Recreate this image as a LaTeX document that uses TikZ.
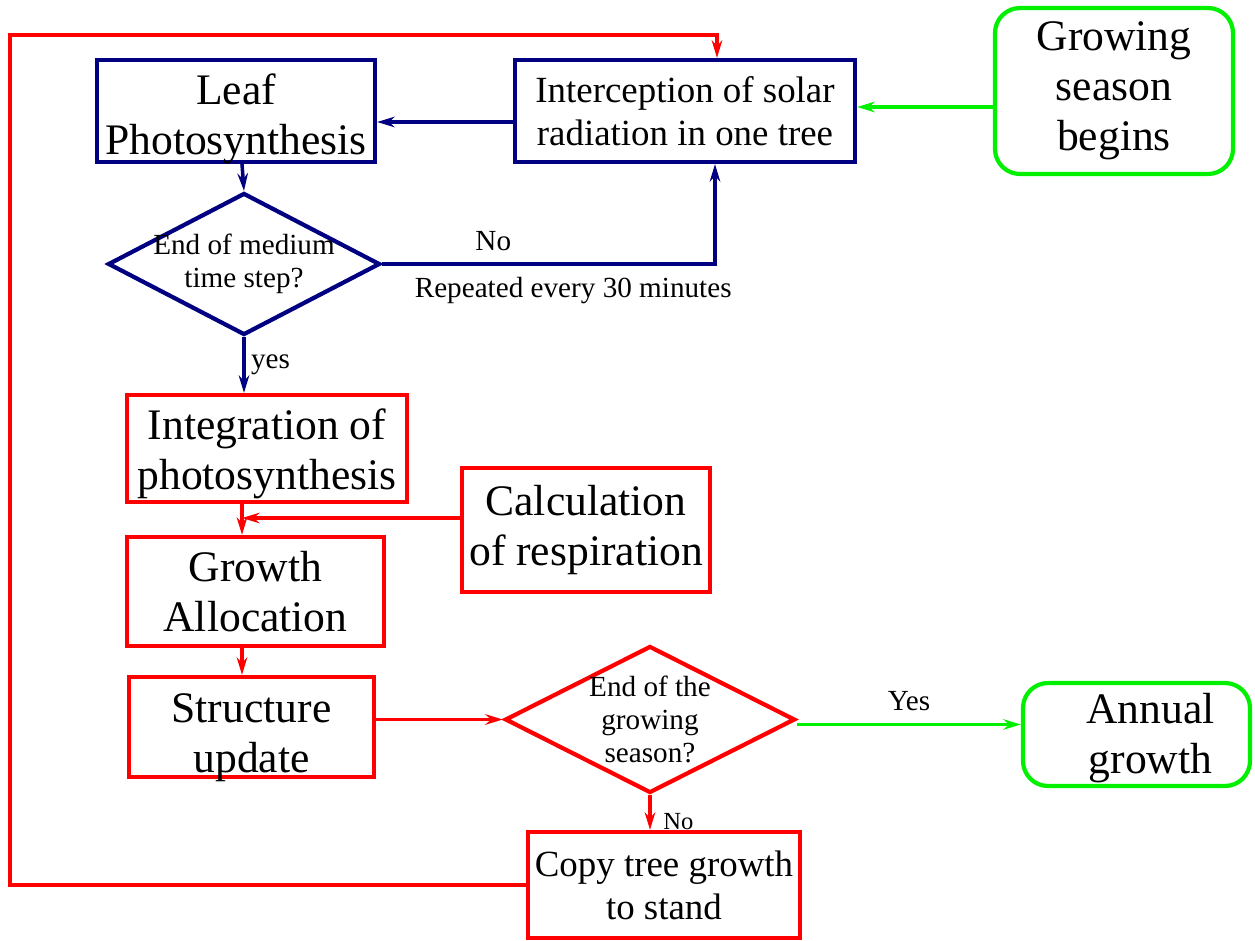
\documentclass[tikz,border=0pt]{standalone}
\usepackage{fontspec}
\setmainfont{Liberation Serif}
\usetikzlibrary{shapes.geometric,arrows.meta,calc}
\definecolor{navyline}{RGB}{0,0,128}
\definecolor{redline}{RGB}{255,0,0}
\definecolor{greenline}{RGB}{0,240,0}
\tikzset{box/.style={draw, rectangle, line width=1.2pt, align=center, inner sep=0pt},
  bluebox/.style={box, draw=navyline}, redbox/.style={box, draw=redline},
  greenbox/.style={box, draw=greenline, rounded corners=0.25cm},
  decision/.style={diamond, draw, line width=1.2pt, inner sep=0pt},
  big/.style={font=\fontsize{12.4}{14.2}\selectfont, text=black},
  mid/.style={font=\fontsize{10.5}{12.2}\selectfont, text=black},
  small/.style={font=\fontsize{8.3}{9.4}\selectfont, text=black},
  link/.style={line width=1pt, -{Stealth[length=5pt,width=3pt]}}}

\begin{document}
\begin{tikzpicture}
    \useasboundingbox (0,0) rectangle (12.55,-9.41);
    % boxes
    \node[bluebox,minimum width=2.78cm,minimum height=1.02cm,
      label={[big,align=center,yshift=-0.08cm]center:Leaf\\Photosynthesis}] (leaf) at (2.36,-1.11) {};
    \node[bluebox,mid,minimum width=3.40cm,minimum height=1.02cm] (icp) at (6.85,-1.11) {Interception of solar\\radiation in one tree};
    \node[greenbox,big,minimum width=2.38cm,minimum height=1.66cm] (gsb) at (11.14,-0.91) {Growing\\season\\begins};
    \node[decision,draw=navyline,minimum width=2.72cm,minimum height=1.42cm,
      label={[small,align=center]center:End of medium\\time step?}] (d1) at (2.44,-2.64) {};
    \node[redbox,minimum width=2.80cm,minimum height=1.07cm,
      label={[big,align=center,yshift=-0.05cm]center:Integration of\\photosynthesis}] (integ) at (2.67,-4.485) {};
    \node[redbox,big,minimum width=2.48cm,minimum height=1.24cm] (calc) at (5.86,-5.30) {Calculation\\of respiration};
    \node[redbox,big,minimum width=2.57cm,minimum height=1.09cm] (grow) at (2.555,-5.915) {Growth\\Allocation};
    \node[redbox,minimum width=2.45cm,minimum height=1.00cm,
      label={[big,align=center,yshift=-0.11cm]center:Structure\\update}] (struct) at (2.515,-7.27) {};
    \node[decision,draw=redline,minimum width=2.90cm,minimum height=1.47cm,
      label={[small,align=center]center:End of the\\growing\\season?}] (d2) at (6.50,-7.195) {};
    \node[greenbox,minimum width=2.27cm,minimum height=1.03cm,
      label={[big,align=center,xshift=0.14cm,yshift=-0.04cm]center:Annual\\growth}] (annual) at (11.365,-7.345) {};
    \node[redbox,mid,minimum width=2.72cm,minimum height=1.06cm] (copy) at (6.64,-8.85) {Copy tree growth\\to stand};
    \coordinate (spine) at (2.42,0);
    \coordinate (loopL) at (0.10,-0.35);
    % connectors
    \draw[link,greenline] ([yshift=0.04cm]icp.east -| gsb.west) -- ([yshift=0.04cm]icp.east);
    \draw[link,navyline] ([yshift=-0.11cm]icp.west) -- ([yshift=-0.11cm]icp.west -| leaf.east);
    \draw[link,navyline] (leaf.south -| spine) -- (d1.north);
    \draw[link,navyline] (d1.east) -| ($(icp.south)+(0.30,0)$)
      node[small,pos=0.167,above] {No} node[small,pos=0.287,below] {Repeated every 30 minutes};
    \draw[link,navyline] (d1.south) -- (integ.north -| d1.south) node[small,midway,right,inner sep=1.5pt] {yes};
    \draw[link,redline] (integ.south -| spine) -- (grow.north -| spine);
    \draw[link,redline] ([yshift=0.12cm]calc.west) -- ([yshift=0.12cm]calc.west -| spine);
    \draw[link,redline] (grow.south -| spine) -- (struct.north -| spine);
    \draw[link,redline] (struct.east |- d2.west) -- (d2.west);
    \draw[link,greenline] ([yshift=-0.05cm]d2.east) -- ([yshift=-0.05cm]d2.east -| annual.west)
      node[small,midway,above] {Yes};
    \draw[link,redline] (d2.south) -- (copy.north -| d2.south)
      node[font=\fontsize{7}{8}\selectfont,text=black,pos=0.75,right] {No};
    \draw[link,redline] (copy.west) -| (loopL) -| ($(icp.north)+(0.32,0)$);
\end{tikzpicture}
\end{document}
